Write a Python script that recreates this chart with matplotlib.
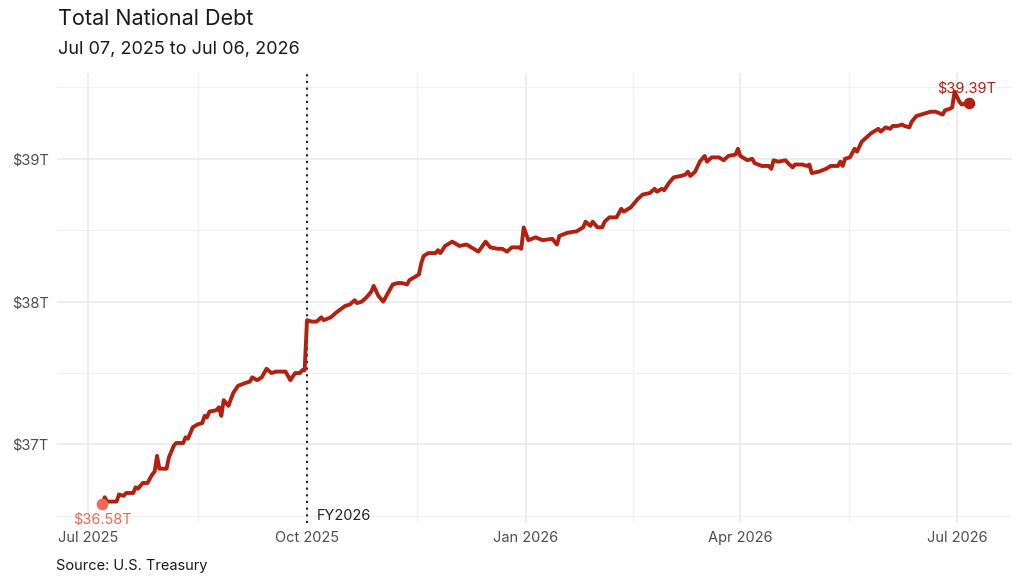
import numpy as np
import pandas as pd
import matplotlib
matplotlib.use("Agg")
import matplotlib.pyplot as plt
import matplotlib.dates as mdates
from matplotlib.ticker import FuncFormatter

plt.rcParams['font.family'] = ['Inter', 'DejaVu Sans']

# Dados (trilhões de dólares)
dates = [
    # Jul 2025
    "2025-07-07", "2025-07-08", "2025-07-09", "2025-07-13", "2025-07-14", "2025-07-16",
    "2025-07-17", "2025-07-20", "2025-07-21", "2025-07-22", "2025-07-24", "2025-07-26",
    "2025-07-28", "2025-07-29", "2025-07-30", "2025-07-31",
    # Aug 2025
    "2025-08-03", "2025-08-04", "2025-08-06", "2025-08-07", "2025-08-10", "2025-08-11",
    "2025-08-12", "2025-08-14", "2025-08-16", "2025-08-18", "2025-08-19", "2025-08-20",
    "2025-08-21", "2025-08-24", "2025-08-25", "2025-08-26", "2025-08-27", "2025-08-29",
    "2025-08-31",
    # Sep 2025
    "2025-09-02", "2025-09-05", "2025-09-07", "2025-09-08", "2025-09-10", "2025-09-12",
    "2025-09-14", "2025-09-16", "2025-09-18", "2025-09-22", "2025-09-24", "2025-09-26",
    "2025-09-28", "2025-09-29", "2025-09-30",
    # Oct 2025
    "2025-10-01", "2025-10-03", "2025-10-05", "2025-10-07", "2025-10-08", "2025-10-11",
    "2025-10-13", "2025-10-17", "2025-10-19", "2025-10-21", "2025-10-22", "2025-10-24",
    "2025-10-26", "2025-10-28", "2025-10-29", "2025-10-31",
    # Nov 2025
    "2025-11-02", "2025-11-06", "2025-11-08", "2025-11-10", "2025-11-12", "2025-11-13",
    "2025-11-17", "2025-11-18", "2025-11-19", "2025-11-21", "2025-11-24", "2025-11-25",
    "2025-11-26", "2025-11-28", "2025-11-30",
    # Dec 2025
    "2025-12-01", "2025-12-04", "2025-12-07", "2025-12-09", "2025-12-12", "2025-12-15",
    "2025-12-17", "2025-12-20", "2025-12-22", "2025-12-24", "2025-12-26", "2025-12-29",
    "2025-12-30", "2025-12-31",
    # Jan 2026
    "2026-01-02", "2026-01-05", "2026-01-08", "2026-01-12", "2026-01-14", "2026-01-15",
    "2026-01-18", "2026-01-21", "2026-01-22", "2026-01-25", "2026-01-26", "2026-01-28",
    "2026-01-29", "2026-01-31",
    # Feb 2026
    "2026-02-02", "2026-02-03", "2026-02-05", "2026-02-08", "2026-02-10", "2026-02-11",
    "2026-02-14", "2026-02-17", "2026-02-19", "2026-02-22", "2026-02-24", "2026-02-25",
    "2026-02-27", "2026-02-28",
    # Mar 2026
    "2026-03-02", "2026-03-04", "2026-03-07", "2026-03-09", "2026-03-10", "2026-03-11",
    "2026-03-13", "2026-03-15", "2026-03-17", "2026-03-18", "2026-03-20", "2026-03-23",
    "2026-03-25", "2026-03-27", "2026-03-30", "2026-03-31",
    # Apr 2026
    "2026-04-01", "2026-04-04", "2026-04-06", "2026-04-07", "2026-04-10", "2026-04-13",
    "2026-04-14", "2026-04-15", "2026-04-17", "2026-04-20", "2026-04-21", "2026-04-23",
    "2026-04-24", "2026-04-27", "2026-04-29", "2026-04-30",
    # May 2026
    "2026-05-01", "2026-05-04", "2026-05-07", "2026-05-09", "2026-05-12", "2026-05-13",
    "2026-05-14", "2026-05-15", "2026-05-17", "2026-05-19", "2026-05-20", "2026-05-22",
    "2026-05-24", "2026-05-26", "2026-05-29", "2026-05-30",
    # Jun 2026
    "2026-06-01", "2026-06-03", "2026-06-04", "2026-06-06", "2026-06-08", "2026-06-09",
    "2026-06-11", "2026-06-12", "2026-06-14", "2026-06-16", "2026-06-18", "2026-06-20",
    "2026-06-22", "2026-06-25", "2026-06-26", "2026-06-28", "2026-06-29", "2026-06-30",
    # Jul 2026
    "2026-07-02", "2026-07-03", "2026-07-05", "2026-07-06",
]

debt = [
    # Jul 2025
    36.58, 36.63, 36.60, 36.60, 36.65, 36.64, 36.66, 36.66, 36.70, 36.69, 36.73, 36.73,
    36.79, 36.81, 36.92, 36.83,
    # Aug 2025
    36.83, 36.91, 36.99, 37.01, 37.01, 37.05, 37.04, 37.12, 37.14, 37.15, 37.20, 37.19,
    37.23, 37.24, 37.26, 37.20, 37.31, 37.27, 37.36,
    # Sep 2025
    37.41, 37.43, 37.44, 37.47, 37.45, 37.47, 37.53, 37.50, 37.51, 37.51, 37.45, 37.50,
    37.50, 37.52, 37.52,
    # Oct 2025
    37.87, 37.86, 37.86, 37.89, 37.87, 37.89, 37.92, 37.97, 37.98, 38.01, 37.99, 38.00,
    38.03, 38.07, 38.11, 38.04,
    # Nov 2025
    38.00, 38.12, 38.13, 38.13, 38.12, 38.15, 38.19, 38.27, 38.32, 38.34, 38.34, 38.36,
    38.34, 38.39, 38.41,
    # Dec 2025
    38.42, 38.39, 38.40, 38.38, 38.35, 38.42, 38.38, 38.37, 38.37, 38.35, 38.38, 38.38,
    38.37, 38.52,
    # Jan 2026
    38.43, 38.45, 38.43, 38.44, 38.40, 38.46, 38.48, 38.49, 38.49, 38.52, 38.56, 38.53,
    38.56, 38.52,
    # Feb 2026
    38.52, 38.56, 38.59, 38.59, 38.65, 38.63, 38.66, 38.72, 38.75, 38.76, 38.79, 38.77,
    38.79, 38.78,
    # Mar 2026
    38.83, 38.87, 38.88, 38.89, 38.91, 38.88, 38.91, 38.98, 39.02, 38.98, 39.01, 39.01,
    38.99, 39.02, 39.03, 39.07,
    # Apr 2026
    39.02, 38.99, 39.00, 38.97, 38.95, 38.95, 38.93, 38.99, 38.98, 38.99, 38.97, 38.94,
    38.96, 38.96, 38.95, 38.96,
    # May 2026
    38.90, 38.91, 38.93, 38.95, 38.95, 38.98, 38.95, 39.00, 39.01, 39.07, 39.05, 39.12,
    39.15, 39.18, 39.21, 39.19,
    # Jun 2026
    39.22, 39.21, 39.23, 39.23, 39.24, 39.23, 39.22, 39.26, 39.30, 39.31, 39.32, 39.33,
    39.33, 39.31, 39.34, 39.35, 39.36, 39.47,
    # Jul 2026
    39.40, 39.38, 39.39, 39.39,
]

major_ticks = ["2025-07-01", "2025-10-01", "2026-01-01", "2026-04-01", "2026-07-01"]
major_labels = ["Jul 2025", "Oct 2025", "Jan 2026", "Apr 2026", "Jul 2026"]
y_ticks = [37, 38, 39]
fy_start = "2025-10-01"
start_label = "$36.58T"
end_label = "$39.39T"

line_color = "#b2200f"
start_color = "#ef6a55"

dates = pd.to_datetime(dates)
major = pd.to_datetime(major_ticks)
minor = major[:-1] + (major[1:] - major[:-1]) / 2

fig = plt.figure(figsize=(10.24, 5.85), dpi=100)
ax = fig.add_axes([0.0557, 0.106, 0.9323, 0.769])

ax.plot(dates, debt, color=line_color, lw=2.8, solid_joinstyle="round", zorder=3)
ax.scatter([dates[0]], [debt[0]], s=70, color=start_color, zorder=4, linewidths=0)
ax.scatter([dates[-1]], [debt[-1]], s=70, color=line_color, zorder=4, linewidths=0)

ax.text(dates[0], debt[0] - 0.055, start_label, color=start_color, ha="center", va="top",
        fontsize=10.5)
ax.text(dates[-1] - pd.Timedelta(days=1), debt[-1] + 0.05, end_label, color=line_color,
        ha="center", va="bottom", fontsize=10.5)

# linha do início do ano fiscal
fy = pd.to_datetime(fy_start)
ax.axvline(fy, color="#222222", lw=1.5, linestyle=(0, (1, 2.2)), zorder=2)
ax.text(fy + pd.Timedelta(days=4), 36.50, "FY2026", color="#222222", ha="left",
        va="center", fontsize=10.5)

ax.set_xlim(pd.Timestamp("2025-06-18"), pd.Timestamp("2026-07-24"))
ax.set_ylim(36.45, 39.60)

ax.set_xticks(major)
ax.set_xticklabels(major_labels)
ax.set_xticks(minor, minor=True)
ax.set_yticks(y_ticks)
ax.yaxis.set_major_formatter(FuncFormatter(lambda v, p: f"${v:.0f}T"))
ax.set_yticks([36.5, 37.5, 38.5, 39.5], minor=True)

ax.grid(True, which="major", color="#e8e8e8", lw=1.1)
ax.grid(True, which="minor", color="#f0f0f0", lw=0.8)
ax.set_axisbelow(True)
for s in ax.spines.values():
    s.set_visible(False)
ax.tick_params(which="both", length=0)
ax.tick_params(axis="both", labelsize=10.5, colors="#4d4d4d", pad=6)

fig.text(0.057, 0.968, "Total National Debt", fontsize=15.5, color="#1a1a1a",
         ha="left", va="center")
fig.text(0.057, 0.916, "Jul 07, 2025 to Jul 06, 2026", fontsize=13, color="#1a1a1a",
         ha="left", va="center")
fig.text(0.055, 0.033, "Source: U.S. Treasury", fontsize=10.5, color="#1a1a1a",
         ha="left", va="center")

fig.savefig("out.png", dpi=100, facecolor="white")
